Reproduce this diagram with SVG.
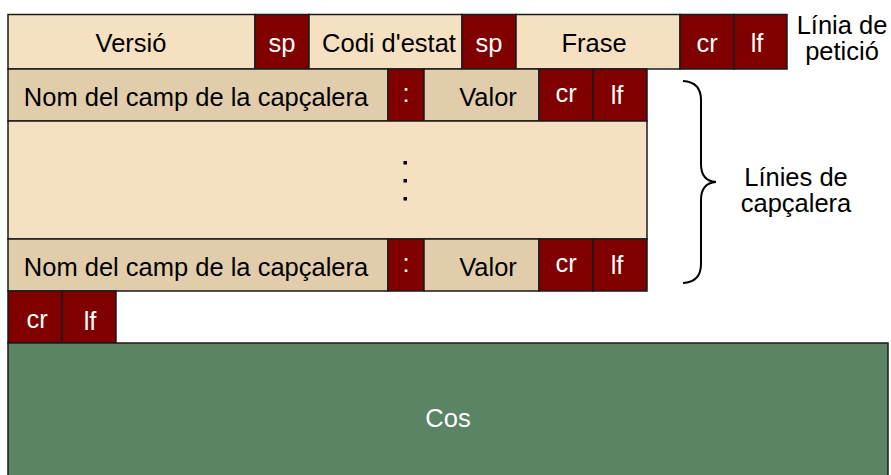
<svg xmlns="http://www.w3.org/2000/svg" width="891" height="475" viewBox="0 0 891 475">
  <style>
    rect { stroke: #1a1a1a; stroke-width: 1.5; }
    .light { fill: #f5e1c2; }
    .mid { fill: #e1cdab; }
    .red { fill: #800000; }
    .green { fill: #5a8464; }
    text { font-family: "Liberation Sans", Arial, sans-serif; font-size: 25.5px; text-anchor: middle; }
    .dk { fill: #000; }
    .wt { fill: #fff; }
    .dot { fill: #000; stroke: none; }
    .brace { fill: none; stroke: #000; stroke-width: 2; }
  </style>

  <!-- status line -->
  <g id="status-line">
    <rect class="light" x="8" y="14.5" width="247" height="54.5"/>
    <text class="dk" x="131" y="52">Versió</text>
    <rect class="red" x="255" y="14.5" width="54" height="54.5"/>
    <text class="wt" x="282" y="52">sp</text>
    <rect class="light" x="309" y="14.5" width="153" height="54.5"/>
    <text class="dk" x="389" y="52">Codi d'estat</text>
    <rect class="red" x="462" y="14.5" width="54" height="54.5"/>
    <text class="wt" x="489" y="52">sp</text>
    <rect class="light" x="516" y="14.5" width="164" height="54.5"/>
    <text class="dk" x="594" y="52">Frase</text>
    <rect class="red" x="680" y="14.5" width="54" height="54.5"/>
    <text class="wt" x="707" y="52">cr</text>
    <rect class="red" x="734" y="14.5" width="53" height="54.5"/>
    <text class="wt" x="757" y="52">lf</text>
  </g>

  <!-- first header line -->
  <g id="header-line-1">
    <rect class="mid" x="8" y="69" width="380" height="52"/>
    <text class="dk" x="196" y="105.5">Nom del camp de la capçalera</text>
    <rect class="red" x="388" y="69" width="36" height="52"/>
    <text class="wt" x="406" y="102">:</text>
    <rect class="mid" x="424" y="69" width="115" height="52"/>
    <text class="dk" x="488" y="105.5">Valor</text>
    <rect class="red" x="539" y="69" width="54" height="52"/>
    <text class="wt" x="566" y="102">cr</text>
    <rect class="red" x="593" y="69" width="54" height="52"/>
    <text class="wt" x="617" y="104">lf</text>
  </g>

  <!-- elided header lines -->
  <g id="header-gap">
    <rect class="light" x="8" y="121" width="639" height="118"/>
    <rect class="dot" x="403.5" y="161" width="3.5" height="3.5"/>
    <rect class="dot" x="403.5" y="179" width="3.5" height="3.5"/>
    <rect class="dot" x="403.5" y="197" width="3.5" height="3.5"/>
  </g>

  <!-- last header line -->
  <g id="header-line-n">
    <rect class="mid" x="8" y="239" width="380" height="52"/>
    <text class="dk" x="196" y="276">Nom del camp de la capçalera</text>
    <rect class="red" x="388" y="239" width="36" height="52"/>
    <text class="wt" x="406" y="272">:</text>
    <rect class="mid" x="424" y="239" width="115" height="52"/>
    <text class="dk" x="488" y="276">Valor</text>
    <rect class="red" x="539" y="239" width="54" height="52"/>
    <text class="wt" x="566" y="272">cr</text>
    <rect class="red" x="593" y="239" width="54" height="52"/>
    <text class="wt" x="617" y="274">lf</text>
  </g>

  <!-- blank line -->
  <g id="blank-line">
    <rect class="red" x="8" y="291" width="54" height="52"/>
    <text class="wt" x="37" y="328">cr</text>
    <rect class="red" x="62" y="291" width="54" height="52"/>
    <text class="wt" x="90" y="330">lf</text>
  </g>

  <!-- body -->
  <g id="body">
    <rect class="green" x="8" y="343" width="880" height="140"/>
    <text class="wt" x="448" y="427">Cos</text>
  </g>

  <!-- labels -->
  <g id="label-status">
    <text class="dk" x="842" y="33.5">Línia de</text>
    <text class="dk" x="842" y="60">petició</text>
  </g>
  <g id="label-headers">
    <path class="brace" d="M683,81 Q701,82 701,100 L701,164 Q701,181 716,182 Q701,183 701,200 L701,264 Q701,282 683,283"/>
    <text class="dk" x="796" y="186">Línies de</text>
    <text class="dk" x="796" y="211.5">capçalera</text>
  </g>
</svg>
